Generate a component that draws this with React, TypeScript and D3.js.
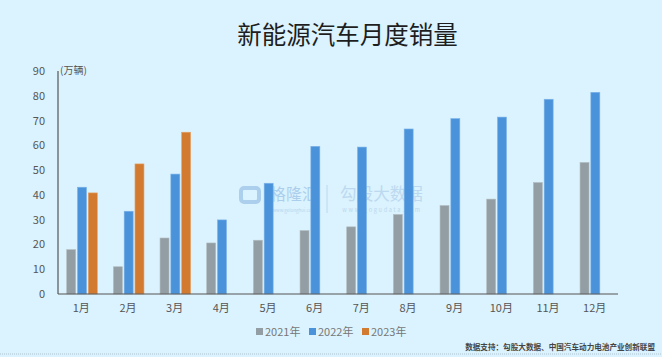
import React from "react";
import * as d3 from "d3";

const months = ["1月", "2月", "3月", "4月", "5月", "6月", "7月", "8月", "9月", "10月", "11月", "12月"];
const seriesNames = ["2021年", "2022年", "2023年"];
const sales2021 = [17.9, 11.0, 22.6, 20.6, 21.7, 25.6, 27.1, 32.1, 35.7, 38.3, 45.0, 53.1];
const sales2022 = [43.1, 33.4, 48.4, 29.9, 44.7, 59.6, 59.3, 66.6, 70.8, 71.4, 78.6, 81.4];
const sales2023 = [40.8, 52.5, 65.3];
const yTicks = [0, 10, 20, 30, 40, 50, 60, 70, 80, 90];
const colors = ["#929EA3", "#4A93DA", "#D27B30"];
const strokeColors = ["#B3BDC1", "#7DB4EA", "#E6A36A"];

const W = 662;
const H = 357;
const FONT = "'Noto Sans CJK SC', 'Noto Sans', sans-serif";

export default function App() {
  const x = d3.scaleBand<string>().domain(months).range([58, 618]).padding(0);
  const inner = d3.scaleBand<string>().domain(seriesNames).range([8.7, 39.3]).paddingInner(0.167).paddingOuter(0);
  const y = d3.scaleLinear().domain([0, 90]).range([294, 71]);
  const data = [sales2021, sales2022, sales2023];

  return (
    <svg width={W} height={H} style={{ position: "absolute", left: 0, top: 0, fontFamily: FONT }}>
      <rect x={0} y={0} width={W} height={H} fill="#DBF3FE" />
      <text x={347.5} y={44} textAnchor="middle" fontSize={24.5} fill="#1E1E1E">新能源汽车月度销量</text>

      {/* watermark */}
      <g opacity={0.6}>
        <rect x={241} y={188} width={18} height={14} rx={3} fill="none" stroke="#8DB7E3" strokeWidth={4} />
        <text x={270} y={200} fontSize={16} fill="#8DB7E3">格隆汇</text>
        <text x={294} y={211.5} fontSize={4.5} fill="#9DC1E6" textAnchor="middle">www.gelonghui.com</text>
        <line x1={327} y1={185} x2={327} y2={213} stroke="#A8C8E8" strokeWidth={1} />
        <text x={340} y={200} fontSize={16.6} fill="#A8C8E8">勾股大数据</text>
        <text x={382} y={212} fontSize={5.6} fill="#A8C8E8" textAnchor="middle" letterSpacing={1.7}>www.gogudata.com</text>
      </g>

      {/* bars */}
      {data.map((vals, si) =>
        vals.map((v, i) => (
          <rect
            key={`${si}-${i}`}
            x={(x(months[i]) as number) + (inner(seriesNames[si]) as number)}
            y={y(v)}
            width={inner.bandwidth()}
            height={y(0) - y(v)}
            fill={colors[si]}
            stroke={strokeColors[si]}
            strokeWidth={0.6}
          />
        ))
      )}

      {/* axes */}
      <line x1={58} y1={71} x2={58} y2={294} stroke="#555" strokeWidth={1.2} />
      <line x1={58} y1={294} x2={618} y2={294} stroke="#555" strokeWidth={1.2} />
      {yTicks.map((t) => (
        <text key={t} x={45} y={y(t) + 4} textAnchor="end" fontSize={11} fill="#555">{t}</text>
      ))}
      <text x={60} y={74} fontSize={10} fill="#555">(万辆)</text>
      {months.map((m) => (
        <text key={m} x={(x(m) as number) + x.bandwidth() / 2} y={312} textAnchor="middle" fontSize={11} fill="#555">{m}</text>
      ))}

      {/* legend */}
      {seriesNames.map((s, i) => {
        const lx = [256, 309, 362][i];
        return (
          <g key={s}>
            <rect x={lx} y={328} width={7} height={7} fill={colors[i]} />
            <text x={lx + 9} y={336} fontSize={11} fill="#777">{s}</text>
          </g>
        );
      })}

      <text x={655} y={350} textAnchor="end" fontSize={7.6} fontWeight="bold" fill="#444">数据支持：勾股大数据、中国汽车动力电池产业创新联盟</text>
      <line x1={0} y1={354} x2={W} y2={354} stroke="#AFC4CF" strokeWidth={1} strokeDasharray="1,1" />
    </svg>
  );
}
